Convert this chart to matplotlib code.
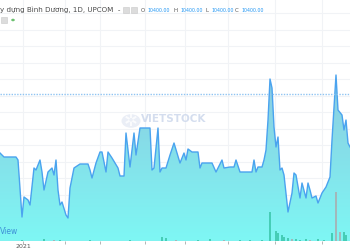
import numpy as np
import matplotlib
matplotlib.use("Agg")
import matplotlib.pyplot as plt
from matplotlib.colors import LinearSegmentedColormap
from matplotlib.patches import Circle, Rectangle, PathPatch

# ---- data ----
days = [0, 2, 8, 9, 11, 12, 14, 15, 17, 18, 20, 21, 22, 24, 26, 27, 28, 29, 30, 31,
        33, 34, 35, 37, 40, 44, 45, 46, 48, 50, 51, 53, 54, 56, 59, 60, 62, 63, 65, 67,
        68, 70, 75, 76, 77, 79, 80, 81, 83, 85, 87, 90, 92, 93, 94, 96, 99, 100, 101, 106,
        108, 111, 112, 115, 117, 118, 120, 126, 127, 128, 129, 131, 132, 133, 134, 135, 136, 137, 138, 139,
        140, 141, 142, 144, 146, 147, 148, 150, 151, 153, 154, 155, 156, 158, 159, 161, 163, 165, 166, 168,
        169, 171, 172, 173, 174, 175]
prices = [8040, 7880, 7880, 7760, 5480, 6280, 6160, 5960, 7440, 7360, 7760, 7280, 6560, 7280, 7440, 7160, 7760, 6560, 5960, 6080,
          5560, 5440, 6640, 7440, 7600, 7600, 7360, 7040, 7640, 8080, 8080, 7280, 8080, 7840, 7440, 7120, 7120, 8840, 7480, 8840,
          7960, 9040, 9040, 7360, 7440, 9040, 7280, 7440, 7440, 7960, 8440, 7640, 8040, 7760, 8200, 8080, 8080, 7440, 7640, 7640,
          7280, 7760, 7440, 7480, 7480, 7760, 7280, 7280, 7760, 7280, 7480, 7480, 7760, 8160, 9360, 11000, 10640, 9080, 8280, 8680,
          7360, 7440, 7160, 5680, 6440, 7240, 7160, 6240, 6840, 6240, 6840, 6560, 6240, 6320, 6040, 6440, 6680, 7080, 8560, 11160,
          9760, 9560, 8960, 9360, 8440, 8280]

vol_days = [11, 22, 27, 30, 45, 65, 81, 83, 88, 99, 105, 112, 120, 125, 131, 135, 138, 139, 141, 142,
            144, 146, 148, 150, 153, 155, 159, 162, 166, 168, 170, 172, 173]
volumes = [10000, 20000, 10000, 15000, 10000, 10000, 40000, 30000, 10000, 10000, 20000, 15000, 10000, 10000, 15000, 290000, 100000, 80000, 60000, 40000,
           30000, 20000, 20000, 15000, 20000, 10000, 20000, 15000, 80000, 490000, 90000, 90000, 60000]
vol_up = [True, True, False, True, True, True, True, True, False, True, True, False, True, True, True, True, True, True, True, True,
          True, False, True, True, True, False, True, True, True, False, False, True, True]

last_price = 10400
tick_days = [11.5, 32.5, 50, 72.5, 92.5, 114, 137.5, 161]
tick_labels = ["2021", "", "", "", "", "", "", ""]

W, H = 350, 250
fig = plt.figure(figsize=(W / 100, H / 100), dpi=100)
fig.patch.set_facecolor("white")
ax = fig.add_axes([0, 9 / H, 1, 241 / H])
ax.set_facecolor("white")

ymin, ymax = 4520, 14160
ax.set_xlim(0, 175)
ax.set_ylim(ymin, ymax)

# grid
for t in tick_days:
    ax.axvline(t, color="#f1f3f6", lw=0.8, zorder=0)
for g in np.arange(11000 - 660 * 10, ymax, 660):
    ax.axhline(g, color="#f1f3f6", lw=0.8, zorder=0)

# gradient area
cmap = LinearSegmentedColormap.from_list("area", [(0.0, "#7ef7f4"), (1.0, "#8ccbe0")])
grad = np.linspace(0, 1, 256).reshape(-1, 1)
im = ax.imshow(grad, extent=[0, 175, ymin, 11200], origin="lower", aspect="auto",
               cmap=cmap, zorder=1, interpolation="bilinear")
poly = ax.fill_between(days, prices, ymin, color="none", lw=0)
path = poly.get_paths()[0]
patch = PathPatch(path, facecolor="none", edgecolor="none", transform=ax.transData)
ax.add_patch(patch)
im.set_clip_path(patch)
ax.plot(days, prices, color="#4aa3ef", lw=1.0, zorder=4)

ax.axhline(last_price, color="#8fc4f2", lw=1.0, ls=(0, (1, 1)), zorder=5)

# volume
vax = ax.twinx()
vax.set_ylim(0, 2410000)
vcol = ["#40c9b0" if u else "#a6b2b4" for u in vol_up]
vax.bar(vol_days, volumes, width=0.9, color=vcol, alpha=0.9, zorder=3)
vax.set_yticks([])

for a in (ax, vax):
    for s in a.spines.values():
        s.set_visible(False)
ax.set_yticks([])
ax.set_xticks(tick_days)
ax.set_xticklabels(tick_labels, fontsize=4.5, color="#555555")
ax.tick_params(axis="x", length=2, width=0.6, color="#aaaaaa", pad=0.5)
ax.axhline(ymin, color="#b8bcc4", lw=0.8, zorder=6)

# watermark
fig.patches.append(Circle((131 / W, 1 - 121 / H), 9.5 / W, transform=fig.transFigure,
                          facecolor="#dde3f0", edgecolor="none", alpha=0.6, zorder=2))
fig.text(131 / W, 1 - 121 / H, "\u2732", fontsize=12, color="#ffffff", alpha=0.8,
         ha="center", va="center")
fig.text(141 / W, 1 - 119 / H, "VIETSTOCK", fontsize=7.5, fontweight="bold",
         color="#cdd8ec", alpha=0.85, ha="left", va="center")

# header
fig.text(0 / W, 1 - 10 / H, "y dựng Bình Dương, 1D, UPCOM  -", fontsize=5.1,
         color="#4a4a4a", ha="left", va="center")
for xp in (123, 131):
    fig.patches.append(Rectangle((xp / W, 1 - 13 / H), 6 / W, 6 / H, transform=fig.transFigure,
                                 facecolor="#dcdcdc", edgecolor="#c8c8c8", lw=0.4))
fig.patches.append(Rectangle((1 / W, 1 - 23 / H), 6 / W, 6 / H, transform=fig.transFigure,
                             facecolor="#dcdcdc", edgecolor="#c8c8c8", lw=0.4))
fig.patches.append(Circle((13 / W, 1 - 20 / H), 1.8 / W, transform=fig.transFigure,
                          facecolor="#6cc070", edgecolor="none"))
labels = [("O", 141), ("H", 174), ("L", 205), ("C", 235)]
for lab, xp in labels:
    fig.text(xp / W, 1 - 10 / H, lab, fontsize=4.0, color="#555555", ha="left", va="center")
    fig.text((xp + 6) / W, 1 - 10 / H, f"{last_price:.2f}", fontsize=3.4, color="#2196f3",
             ha="left", va="center")

fig.text(0 / W, 1 - 232 / H, "View", fontsize=5.5, color="#3d8fd6", ha="left", va="center")

fig.savefig("out.png", dpi=100, facecolor="white")
